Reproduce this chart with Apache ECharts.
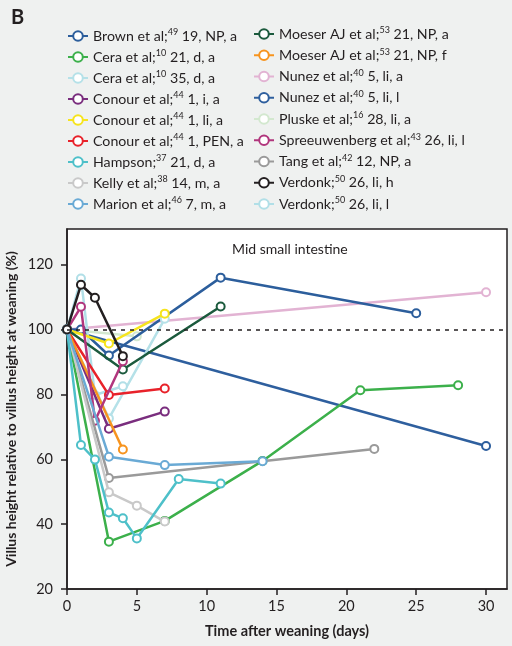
<!DOCTYPE html>
<html><head><meta charset="utf-8">
<script src="https://cdn.jsdelivr.net/npm/echarts@6/dist/echarts.min.js"></script>
<style>html,body{margin:0;padding:0;background:#eff1f0;}#c{width:512px;height:646px;}</style>
</head><body><div id="c"></div>
<script>
// ---- data ----
const brownX = [0, 1, 3, 11, 25];
const brownY = [100, 100, 92, 116, 105];
const cera21X = [0, 3, 7, 14, 21, 28];
const cera21Y = [100, 34.6, 41, 59.5, 81.3, 82.8];
const cera35X = [0, 3, 7];
const cera35Y = [100, 72.6, 103.3];
const conourIX = [0, 3, 7];
const conourIY = [100, 69.4, 74.7];
const conourLiX = [0, 3, 7];
const conourLiY = [100, 95.7, 104.9];
const conourPenX = [0, 3, 7];
const conourPenY = [100, 79.8, 81.8];
const hampsonX = [0, 1, 2, 3, 4, 5, 8, 11];
const hampsonY = [100, 64.4, 59.9, 43.6, 41.8, 35.6, 53.9, 52.5];
const kellyX = [0, 3, 5, 7];
const kellyY = [100, 49.8, 45.7, 40.8];
const marionX = [0, 3, 7, 14];
const marionY = [100, 60.8, 58.2, 59.4];
const moeserAX = [0, 4, 11];
const moeserAY = [100, 87.7, 107.1];
const moeserFX = [0, 4];
const moeserFY = [100, 63];
const nunezAX = [0, 30];
const nunezAY = [100, 111.5];
const nunezLX = [0, 30];
const nunezLY = [100, 64.1];
const pluskeX = [0, 5];
const pluskeY = [100, 97.9];
const spreeX = [0, 1, 2, 4];
const spreeY = [100, 107, 71.9, 90.2];
const tangX = [0, 3, 22];
const tangY = [100, 54.2, 63.2];
const verdHX = [0, 1, 2, 4];
const verdHY = [100, 113.8, 109.8, 91.8];
const verdLX = [0, 1, 2, 4];
const verdLY = [100, 115.7, 79.8, 82.5];

const xTicks = [0, 5, 10, 15, 20, 25, 30];
const yTicks = [20, 40, 60, 80, 100, 120];

// legend labels
const leftNames = ['brown','cera21','cera35','conourI','conourLi','conourPen','hampson','kelly','marion'];
const rightNames = ['moeserA','moeserF','nunezA','nunezL','pluske','spree','tang','verdH','verdL'];
const labelAuthor = {brown:'Brown et al;',cera21:'Cera et al;',cera35:'Cera et al;',conourI:'Conour et al;',conourLi:'Conour et al;',conourPen:'Conour et al;',hampson:'Hampson;',kelly:'Kelly et al;',marion:'Marion et al;',moeserA:'Moeser AJ et al;',moeserF:'Moeser AJ et al;',nunezA:'Nunez et al;',nunezL:'Nunez et al;',pluske:'Pluske et al;',spree:'Spreeuwenberg et al;',tang:'Tang et al;',verdH:'Verdonk;',verdL:'Verdonk;'};
const labelRef = {brown:'49',cera21:'10',cera35:'10',conourI:'44',conourLi:'44',conourPen:'44',hampson:'37',kelly:'38',marion:'46',moeserA:'53',moeserF:'53',nunezA:'40',nunezL:'40',pluske:'16',spree:'43',tang:'42',verdH:'50',verdL:'50'};
const labelRest = {brown:' 19, NP, a',cera21:' 21, d, a',cera35:' 35, d, a',conourI:' 1, i, a',conourLi:' 1, li, a',conourPen:' 1, PEN, a',hampson:' 21, d, a',kelly:' 14, m, a',marion:' 7, m, a',moeserA:' 21, NP, a',moeserF:' 21, NP, f',nunezA:' 5, li, a',nunezL:' 5, li, l',pluske:' 28, li, a',spree:' 26, li, l',tang:' 12, NP, a',verdH:' 26, li, h',verdL:' 26, li, l'};

const colors = {brown:'#2c5e9c',cera21:'#3cb04b',cera35:'#b5e1e8',conourI:'#7a2e7e',conourLi:'#f6e41c',conourPen:'#e8222a',hampson:'#4ec0c9',kelly:'#c9c9c9',marion:'#6aaad5',moeserA:'#1b5a3d',moeserF:'#f7941e',nunezA:'#e2b3d3',nunezL:'#2e5f9e',pluske:'#d3e8cf',spree:'#b1367d',tang:'#9a9a9a',verdH:'#231f20',verdL:'#b1dfe7'};

const seriesXY = {brown:[brownX,brownY],cera21:[cera21X,cera21Y],cera35:[cera35X,cera35Y],conourI:[conourIX,conourIY],conourLi:[conourLiX,conourLiY],conourPen:[conourPenX,conourPenY],hampson:[hampsonX,hampsonY],kelly:[kellyX,kellyY],marion:[marionX,marionY],moeserA:[moeserAX,moeserAY],moeserF:[moeserFX,moeserFY],nunezA:[nunezAX,nunezAY],nunezL:[nunezLX,nunezLY],pluske:[pluskeX,pluskeY],spree:[spreeX,spreeY],tang:[tangX,tangY],verdH:[verdHX,verdHY],verdL:[verdLX,verdLY]};

const drawOrder = ['nunezA','pluske','nunezL','brown','cera21','cera35','verdL','conourLi','conourPen','conourI','moeserF','moeserA','spree','tang','kelly','hampson','marion','verdH'];

const FONT = 'Lato, "Open Sans", sans-serif';
const TXT = '#231f20';

const series = drawOrder.map((k, i) => ({
  name: k,
  type: 'line',
  data: seriesXY[k][0].map((x, j) => [x, seriesXY[k][1][j]]),
  symbol: 'emptyCircle',
  symbolSize: 8,
  color: colors[k],
  lineStyle: {width: 2.5, color: colors[k]},
  itemStyle: {color: colors[k], borderWidth: 2.5},
  emphasis: {disabled: true},
  z: 2 + i * 0.01,
  markLine: k === 'nunezA' ? {
    silent: true, symbol: 'none', label: {show: false},
    lineStyle: {color: '#231f20', type: [4, 5], width: 1.5},
    data: [{yAxis: 100}]
  } : undefined
}));

const rich = {
  a: {fontFamily: FONT, fontSize: 14.2, color: TXT, lineHeight: 16},
  s: {fontFamily: FONT, fontSize: 9, color: TXT, lineHeight: 9, verticalAlign: 'top'}
};
const fmt = name => '{a|' + labelAuthor[name] + '}{s|' + labelRef[name] + '}{a|' + labelRest[name] + '}';

const legendBase = {
  orient: 'vertical', itemWidth: 20, itemHeight: 12, itemGap: 5, padding: 0,
  formatter: fmt, textStyle: {rich: rich, fontFamily: FONT, fontSize: 14, color: TXT},
  selectedMode: false
};

const chart = echarts.init(document.getElementById('c'), null, {renderer: 'canvas'});
chart.setOption({
  backgroundColor: '#eff1f0',
  animation: false,
  textStyle: {fontFamily: FONT},
  legend: [
    Object.assign({}, legendBase, {left: 67, top: 28, itemGap: 6, data: leftNames}),
    Object.assign({}, legendBase, {left: 253, top: 26, itemGap: 6.25, data: rightNames})
  ],
  grid: {left: 67, top: 229, right: 5, bottom: 57, containLabel: false, outerBoundsMode: 'none', show: true, backgroundColor: '#ffffff', borderColor: '#231f20', borderWidth: 1.5},
  xAxis: {
    type: 'value', min: 0, max: 31.5,
    name: 'Time after weaning (days)', nameLocation: 'middle', nameGap: 35, nameMoveOverlap: false,
    nameTextStyle: {fontFamily: FONT, fontWeight: 'bold', fontSize: 14.5, color: TXT},
    axisLine: {show: true, lineStyle: {color: '#231f20', width: 1.5}},
    axisTick: {show: true, length: 6, lineStyle: {color: '#231f20', width: 1.5}, customValues: xTicks},
    axisLabel: {fontFamily: FONT, fontSize: 14.5, color: TXT, margin: 10, customValues: xTicks},
    splitLine: {show: false}
  },
  yAxis: {
    type: 'value', min: 20, max: 131,
    name: 'Villus height relative to villus height at weaning (%)', nameLocation: 'middle', nameGap: 49, nameMoveOverlap: false,
    nameTextStyle: {fontFamily: FONT, fontWeight: 'bold', fontSize: 14, color: TXT},
    axisLine: {show: true, lineStyle: {color: '#231f20', width: 1.5}},
    axisTick: {show: true, length: 6, lineStyle: {color: '#231f20', width: 1.5}, customValues: yTicks},
    axisLabel: {fontFamily: FONT, fontSize: 14.5, color: TXT, margin: 14, customValues: yTicks},
    splitLine: {show: false}
  },
  graphic: [
    {type: 'text', left: 11, top: 8, style: {text: 'B', fontFamily: FONT, fontWeight: 'bold', fontSize: 20, fill: TXT}},
    {type: 'text', left: 232, top: 242, style: {text: 'Mid small intestine', fontFamily: FONT, fontSize: 14, fill: TXT}}
  ],
  series: series
});
</script></body></html>
